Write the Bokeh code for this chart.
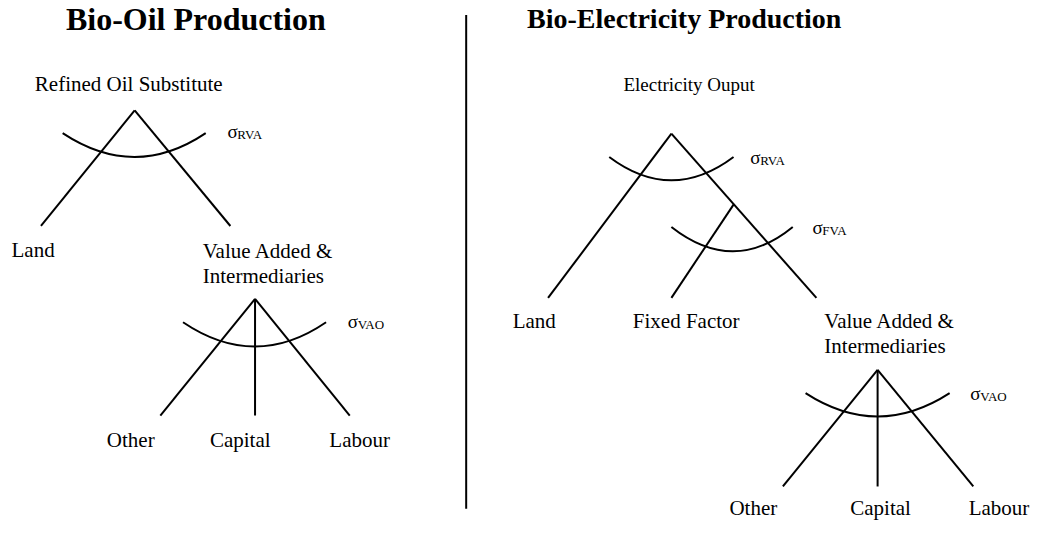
from bokeh.plotting import figure
from bokeh.models import Range1d
from bokeh.core.properties import value
from bokeh.embed import file_html
from bokeh.resources import INLINE

FONT = value("Liberation Serif")

# ---- diagram content (reference-pixel coordinates) ----
titles = ["Bio-Oil Production", "Bio-Electricity Production"]
title_x = [198, 693]
title_y = [19, 19]
title_size = ["32px", "28px"]

# tree branches: parent node -> child node
branch_x0 = [136, 136, 258, 258, 258, 680, 680, 743, 889, 889, 889]
branch_y0 = [113, 113, 307, 307, 307, 137, 137, 210, 380, 380, 380]
branch_x1 = [41, 233, 162, 258, 354, 555, 827, 680, 793, 889, 986]
branch_y1 = [232, 232, 427, 427, 427, 306, 306, 306, 500, 500, 500]

# substitution-elasticity arcs: left end, right end, lowest point
arc_xl = [63, 185, 617, 680, 816]
arc_xr = [208, 330, 743, 803, 962]
arc_ye = [136.5, 331, 161, 233, 404]
arc_xm = [136, 258, 680, 743, 889]
arc_ym = [161, 356, 185, 258, 428]

# sigma labels
sigma_sub = ["RVA", "VAO", "RVA", "FVA", "VAO"]
sigma_x = [230, 352, 760, 823, 983]
sigma_y = [135, 330, 162, 234, 404]

# centred node labels
node_labels = ["Refined Oil Substitute", "Land", "Other", "Capital", "Labour",
               "Electricity Ouput", "Land", "Fixed Factor", "Other", "Capital", "Labour"]
node_x = [130, 33, 132, 243, 364, 698, 541, 695, 763, 892, 1012]
node_y = [86, 257, 452, 452, 452, 86, 330, 330, 522, 522, 522]
node_size = ["21px", "21px", "21px", "21px", "21px",
             "19px", "21px", "21px", "21px", "21px", "21px"]

# left-aligned two-line labels
va_lines = ["Value Added &", "Intermediaries", "Value Added &", "Intermediaries"]
va_x = [205, 205, 835, 835]
va_y = [258, 283, 330, 355]

# divider
div_x = [472, 472]
div_y = [15, 523]

p = figure(width=1032, height=520, output_backend="svg", toolbar_location=None,
           x_range=Range1d(0, 1046), y_range=Range1d(535, 0),
           min_border=0, outline_line_color=None)
p.axis.visible = False
p.grid.visible = False
p.background_fill_color = "white"
p.border_fill_color = "white"

p.segment(x0=branch_x0, y0=branch_y0, x1=branch_x1, y1=branch_y1,
          line_color="black", line_width=2)

cx = arc_xm
cy = [2 * m - e for m, e in zip(arc_ym, arc_ye)]
p.quadratic(x0=arc_xl, y0=arc_ye, x1=arc_xr, y1=arc_ye, cx=cx, cy=cy,
            line_color="black", line_width=2)

p.line(div_x, div_y, line_color="black", line_width=2)

for t, x, y, s in zip(titles, title_x, title_y, title_size):
    p.text(x=[x], y=[y], text=[t], text_font=FONT, text_font_size=s,
           text_font_style="bold", text_align="center", text_baseline="middle",
           text_color="black")

for t, x, y, s in zip(node_labels, node_x, node_y, node_size):
    p.text(x=[x], y=[y], text=[t], text_font=FONT, text_font_size=s,
           text_align="center", text_baseline="middle", text_color="black")

p.text(x=va_x, y=va_y, text=va_lines, text_font=FONT, text_font_size="21px",
       text_align="left", text_baseline="middle", text_color="black")

p.text(x=sigma_x, y=sigma_y, text=["σ"] * len(sigma_x), text_font=FONT,
       text_font_size="19px", text_align="left", text_baseline="middle",
       text_color="black")
p.text(x=[x + 10 for x in sigma_x], y=[y + 3 for y in sigma_y], text=sigma_sub,
       text_font=FONT, text_font_size="13px", text_align="left",
       text_baseline="middle", text_color="black")

open("out.html", "w").write(file_html(p, INLINE))
